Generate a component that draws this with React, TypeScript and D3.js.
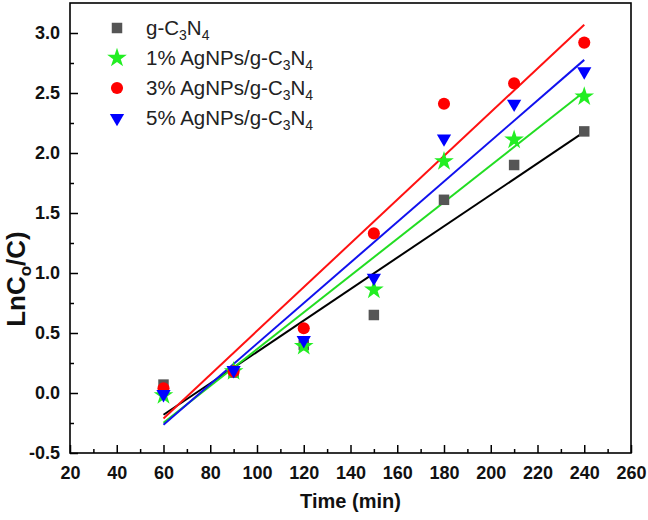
import React, { FC, useEffect, useRef } from "react"
import { axisBottom, axisLeft, range, scaleLinear, select, symbol, symbolCircle, symbolSquare, symbolStar, symbolTriangle } from "d3"

// data
const times = [60, 90, 120, 150, 180, 210, 240]
const gC3N4 = [0.07, 0.17, 0.4, 0.65, 1.61, 1.9, 2.18]
const ag1 = [-0.02, 0.18, 0.39, 0.86, 1.93, 2.11, 2.47]
const ag3 = [0.04, 0.18, 0.54, 1.33, 2.41, 2.58, 2.92]
const ag5 = [-0.01, 0.19, 0.44, 0.96, 2.12, 2.41, 2.68]
const xTicks = range(20, 261, 20)
const yTicks = [-0.5, 0.0, 0.5, 1.0, 1.5, 2.0, 2.5, 3.0]

type S = {
  prefix: string
  values: number[]
  color: string
  lineColor: string
  shape: "square" | "star" | "circle" | "triangle"
}

// legend label is prefix + "C₃N₄"
const series: S[] = [
  { prefix: "g-C", values: gC3N4, color: "#555555", lineColor: "#000000", shape: "square" },
  { prefix: "1% AgNPs/g-C", values: ag1, color: "#22ee22", lineColor: "#22dd22", shape: "star" },
  { prefix: "3% AgNPs/g-C", values: ag3, color: "#ff0000", lineColor: "#ff1111", shape: "circle" },
  { prefix: "5% AgNPs/g-C", values: ag5, color: "#0000ff", lineColor: "#1111ee", shape: "triangle" },
]

// least squares fit of a series
const fit = (xs: number[], ys: number[]) => {
  const n = xs.length
  const mx = xs.reduce((a, b) => a + b, 0) / n
  const my = ys.reduce((a, b) => a + b, 0) / n
  let sxy = 0
  let sxx = 0
  xs.forEach((x, i) => {
    sxy += (x - mx) * (ys[i] - my)
    sxx += (x - mx) * (x - mx)
  })
  const slope = sxy / sxx
  return (x: number) => my + slope * (x - mx)
}

const marker = (shape: S["shape"]) => {
  if (shape === "square") return symbol(symbolSquare, 110)()
  if (shape === "star") return symbol(symbolStar, 120)()
  if (shape === "circle") return symbol(symbolCircle, 115)()
  return symbol(symbolTriangle, 88)()
}

const App: FC = () => {
  const wrapperRef = useRef<HTMLDivElement>(null)

  useEffect(() => {
    document.body.style.margin = "0"

    const width = 648
    const height = 520
    const margins = { top: 3, right: 17, bottom: 67, left: 70 }
    const boundsWidth = width - margins.left - margins.right
    const boundsHeight = height - margins.top - margins.bottom
    const font = "'Liberation Sans', Arial, sans-serif"

    select(wrapperRef.current).selectAll("*").remove()
    const svg = select(wrapperRef.current)
      .append("svg")
      .attr("width", width)
      .attr("height", height)
      .style("display", "block")
      .style("background", "#fff")

    const bounds = svg.append("g").attr("transform", `translate(${margins.left},${margins.top})`)

    const xScale = scaleLinear().domain([20, 260]).range([0, boundsWidth])
    const yScale = scaleLinear().domain([-0.5, 3.25]).range([boundsHeight, 0])

    // fit lines
    series.forEach((s) => {
      const f = fit(times, s.values)
      const x0 = times[0]
      const x1 = times[times.length - 1]
      bounds
        .append("line")
        .attr("x1", xScale(x0))
        .attr("y1", yScale(f(x0)))
        .attr("x2", xScale(x1))
        .attr("y2", yScale(f(x1)))
        .attr("stroke", s.lineColor)
        .attr("stroke-width", 2)
    })

    // markers
    series.forEach((s) => {
      bounds
        .append("g")
        .selectAll("path")
        .data(s.values)
        .join("path")
        .attr("d", marker(s.shape))
        .attr("fill", s.color)
        .attr("transform", (d, i) => `translate(${xScale(times[i])},${yScale(d)})${s.shape === "triangle" ? " rotate(180)" : ""}`)
    })

    // x axis
    const xMinor = bounds
      .append("g")
      .attr("transform", `translate(0,${boundsHeight})`)
      .call(axisBottom(xScale).tickValues(range(30, 260, 20)).tickSize(-4).tickFormat(() => ""))
    xMinor.select(".domain").remove()
    const xAxis = bounds
      .append("g")
      .attr("transform", `translate(0,${boundsHeight})`)
      .call(axisBottom(xScale).tickValues(xTicks).tickSize(-8).tickPadding(13).tickFormat((d) => `${d}`))
    xAxis.select(".domain").remove()
    xAxis.selectAll("text").attr("font-size", 18).attr("font-weight", "bold").attr("font-family", font).attr("fill", "#111")

    // y axis
    const yMinor = bounds.append("g").call(axisLeft(yScale).tickValues(range(-0.25, 3.2, 0.5)).tickSize(-4).tickFormat(() => ""))
    yMinor.select(".domain").remove()
    const yAxis = bounds
      .append("g")
      .call(axisLeft(yScale).tickValues(yTicks).tickSize(-8).tickPadding(10).tickFormat((d) => Number(d).toFixed(1)))
    yAxis.select(".domain").remove()
    yAxis.selectAll("text").attr("font-size", 18).attr("font-weight", "bold").attr("font-family", font).attr("fill", "#111")
    bounds.selectAll(".tick line").attr("stroke", "#000").attr("stroke-width", 1.5)

    // frame
    bounds
      .append("rect")
      .attr("width", boundsWidth)
      .attr("height", boundsHeight)
      .attr("fill", "none")
      .attr("stroke", "#000")
      .attr("stroke-width", 1.6)

    // axis titles
    svg
      .append("text")
      .attr("x", margins.left + boundsWidth / 2)
      .attr("y", 508)
      .attr("text-anchor", "middle")
      .attr("font-size", 20)
      .attr("font-weight", "bold")
      .attr("font-family", font)
      .attr("fill", "#111")
      .text("Time (min)")

    const yTitle = svg
      .append("text")
      .attr("transform", `translate(25,${margins.top + yScale(0.95)}) rotate(-90)`)
      .attr("text-anchor", "middle")
      .attr("font-size", 26)
      .attr("font-weight", "bold")
      .attr("font-family", font)
      .attr("fill", "#111")
    yTitle.append("tspan").text("LnC")
    yTitle.append("tspan").attr("font-size", 17).attr("dy", 6).text("o")
    yTitle.append("tspan").attr("dy", -6).text("/C)")

    // legend
    const legend = svg.append("g").attr("transform", "translate(117,28)")
    series.forEach((s, i) => {
      const row = legend.append("g").attr("transform", `translate(0,${i * 30})`)
      row
        .append("path")
        .attr("d", marker(s.shape))
        .attr("fill", s.color)
        .attr("transform", s.shape === "triangle" ? "rotate(180)" : "")
      const label = row
        .append("text")
        .attr("x", 29)
        .attr("y", 7)
        .attr("font-size", 20.5)
        .attr("font-family", font)
        .attr("fill", "#222")
      label.append("tspan").text(s.prefix)
      label.append("tspan").attr("font-size", 14).attr("dy", 5).text("3")
      label.append("tspan").attr("dy", -5).text("N")
      label.append("tspan").attr("font-size", 14).attr("dy", 5).text("4")
    })
  }, [])

  return <div ref={wrapperRef} />
}

export default App
